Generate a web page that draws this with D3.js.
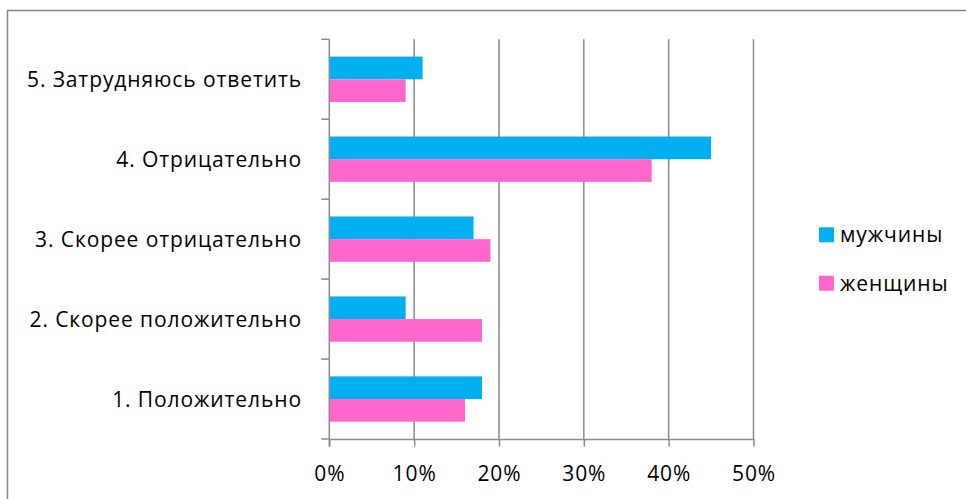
<!DOCTYPE html>
<html><head><meta charset="utf-8">
<script src="https://cdn.jsdelivr.net/npm/d3@7"></script>
<style>body{margin:0;background:#fff}svg{display:block}</style>
</head><body>
<svg id="chart" width="966" height="499"></svg>
<script>
const categories = ["5. Затрудняюсь ответить","4. Отрицательно","3. Скорее отрицательно","2. Скорее положительно","1. Положительно"];
const seriesNames = ["мужчины","женщины"];
const men   = [11, 45, 17, 9, 18];
const women = [9, 38, 19, 18, 16];
const xTicks = [0,10,20,30,40,50];
const colors = ["#00B0F0","#FF66CC"];

(function(){
const svg = d3.select("#chart");
const font = "'Open Sans', sans-serif";
const fs = 21, ls = "0.9px";
const pL = 329.3, pR = 753.5, pT = 39.3, pB = 439;

// outer border
svg.append("rect").attr("x",7.5).attr("y",10.5).attr("width",1000).attr("height",1000)
  .attr("fill","none").attr("stroke","#868686").attr("stroke-width",1.5);

const x = d3.scaleLinear().domain([0,50]).range([pL,pR]);
const y = d3.scaleBand().domain(categories).range([pT,pB]).paddingInner(0.433).paddingOuter(0.2165);
const ys = d3.scaleBand().domain(seriesNames).range([0,y.bandwidth()]);

// gridlines
svg.append("g").selectAll("line").data(xTicks.slice(1)).join("line")
  .attr("x1",d=>x(d)).attr("x2",d=>x(d)).attr("y1",pT).attr("y2",pB)
  .attr("stroke","#8a8a8a").attr("stroke-width",1.5);

// bars
const data = categories.map((c,i)=>({c, vals:[men[i],women[i]]}));
const g = svg.append("g").selectAll("g").data(data).join("g")
  .attr("transform",d=>`translate(0,${y(d.c)})`);
g.selectAll("rect").data(d=>d.vals.map((v,j)=>({v, s:seriesNames[j], j}))).join("rect")
  .attr("x",x(0)).attr("y",d=>ys(d.s)).attr("width",d=>x(d.v)-x(0)).attr("height",ys.bandwidth())
  .attr("fill",d=>colors[d.j]);

// x axis
const xAxis = svg.append("g").attr("transform",`translate(0,${pB})`)
  .call(d3.axisBottom(x).tickValues(xTicks).tickFormat(d=>d+"%").tickSize(7.5).tickSizeOuter(0).tickPadding(20));
xAxis.select(".domain").attr("stroke","#8a8a8a").attr("stroke-width",1.5);
xAxis.selectAll(".tick line").attr("stroke","#8a8a8a").attr("stroke-width",1.5);
xAxis.selectAll("text").attr("font-family",font).attr("font-size",fs).attr("letter-spacing",ls).attr("fill","#000");

// y axis
const yEdges = d3.range(categories.length+1).map(i=>pT + i*y.step());
const yAxisG = svg.append("g");
yAxisG.append("line").attr("x1",pL).attr("x2",pL).attr("y1",pT).attr("y2",pB+7.5)
  .attr("stroke","#8a8a8a").attr("stroke-width",1.5);
yAxisG.selectAll("line.t").data(yEdges).join("line").attr("class","t")
  .attr("x1",pL-8).attr("x2",pL).attr("y1",d=>d).attr("y2",d=>d)
  .attr("stroke","#8a8a8a").attr("stroke-width",1.5);
svg.append("g").selectAll("text").data(categories).join("text")
  .attr("x",302).attr("y",d=>y(d)+y.bandwidth()/2).attr("dy","0.36em")
  .attr("text-anchor","end").attr("font-family",font).attr("font-size",fs).attr("letter-spacing",ls).attr("fill","#000")
  .text(d=>d);

// legend
const lg = svg.append("g").selectAll("g").data(seriesNames).join("g")
  .attr("transform",(d,i)=>`translate(819,${227.3+i*48.4})`);
lg.append("rect").attr("width",15).attr("height",15).attr("fill",(d,i)=>colors[i]);
lg.append("text").attr("x",21).attr("y",7.5).attr("dy","0.36em")
  .attr("font-family",font).attr("font-size",fs).attr("letter-spacing",ls).attr("fill","#000").text(d=>d);
})();
</script>
</body></html>
